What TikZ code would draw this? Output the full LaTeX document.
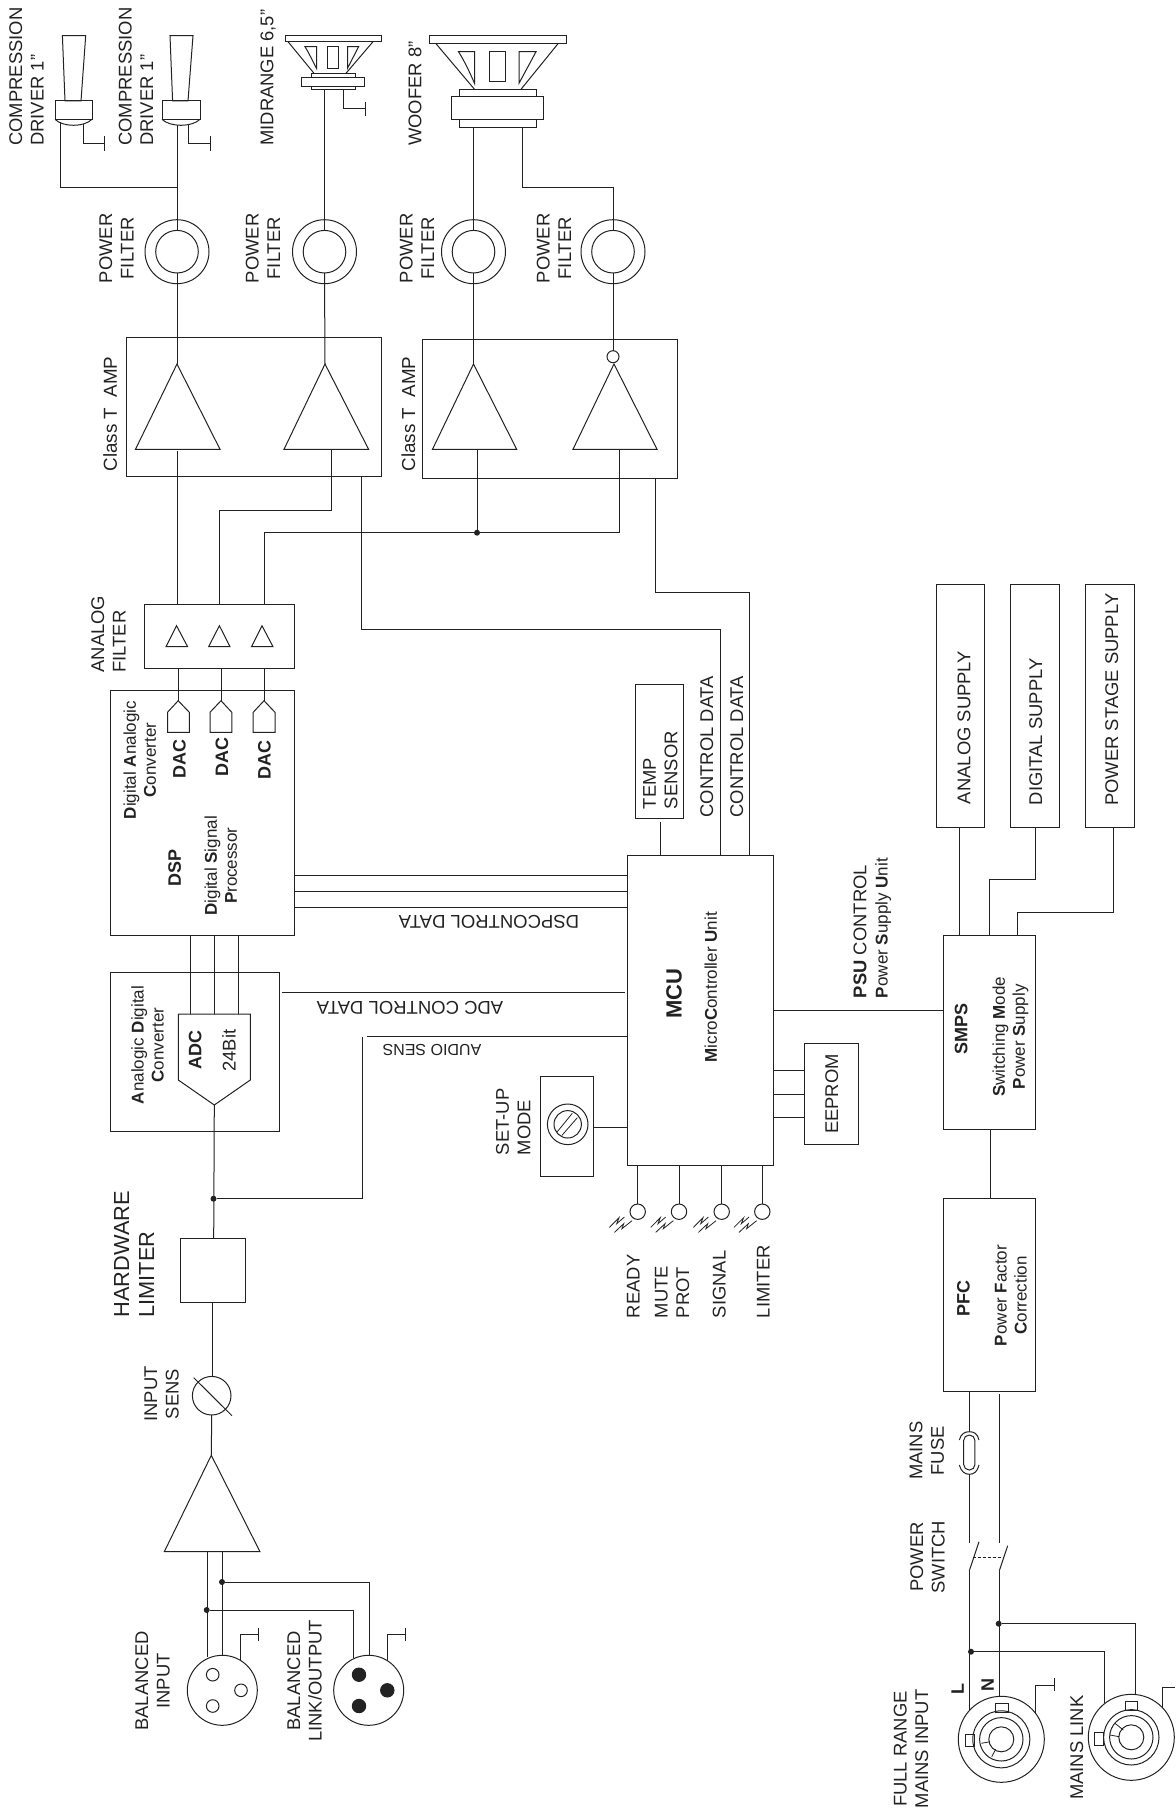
\documentclass[tikz,border=0pt]{standalone}
\usepackage{fontspec}
\setmainfont{Liberation Sans}
\definecolor{ink}{HTML}{222222}
\tikzset{
  wire/.style={draw=ink,line width=1pt,line join=miter},
  boxnode/.style={draw=ink,line width=1pt,rectangle,inner sep=0pt,outer sep=0pt},
  ring/.style={draw=ink,line width=1pt,circle,inner sep=0pt,outer sep=0pt},
  jdot/.style={fill=ink,circle,inner sep=0pt,outer sep=0pt,minimum size=6pt},
  lb/.style={rotate=90,align=center,inner sep=0pt,outer sep=0pt,text=ink,text depth=0pt,font=\fontsize{18.4}{21.5}\selectfont},
  lbw/.style={lb,anchor=west,align=left},
  ub/.style={rotate=180,inner sep=0pt,outer sep=0pt,text=ink,text depth=0pt,font=\fontsize{18.5}{21.5}\selectfont},
  small/.style={font=\fontsize{17}{20}\selectfont},
  bfl/.style={font=\fontsize{18}{21}\bfseries\selectfont},
}
\newcommand{\pbox}[5]{\pgfmathsetmacro\bwv{#4-#2}\pgfmathsetmacro\bhv{#5-#3}%
  \node[boxnode,minimum width=\bwv pt,minimum height=\bhv pt] (#1) at ({(#2+#4)/2},{(#3+#5)/2}) {};}
\newcommand{\gndsym}[6]{\draw[wire] (#1,#2) |- (#4,#3); \draw[wire] (#4,#5) -- (#4,#6);}
\newcommand{\pfilter}[2]{%
  \node[ring,minimum size=64pt] (#1o) at (#2,251.7) {};
  \node[ring,minimum size=42.6pt] (#1i) at (#2,251.7) {};}
\newcommand{\ledsym}[2]{%
  \node[ring,minimum size=15.4pt] (#1) at (#2,1211.7) {};
  \draw[wire,line width=.8pt,shift={(#2,1211.7)}] (-28.3,15.7) -- (-18.7,6) -- (-21,12) -- (-13.3,5.3);
  \draw[wire,line width=.8pt,shift={(#2,1211.7)}] (-23.3,20.7) -- (-14,12) -- (-15.7,17) -- (-5.7,9);
  \draw[wire] (#1.north) -- (#1.north |- mcu.south);}
\begin{document}
\begin{tikzpicture}[x=1pt,y=-1pt]
\useasboundingbox (0,0) rectangle (1175,1809);

% ---------- compression drivers
\draw[wire] (62.4,35.7) -- (85.7,35.7) -- (81,101) -- (65,101) -- cycle;
\pbox{drA}{55}{101}{92}{119.3}
\draw[wire] (drA.south west) .. controls (63,127.3) and (84,127.3) .. (drA.south east);
\coordinate (drAp) at (60.5,122.5);
\gndsym{83}{124.5}{143.3}{104.5}{136}{150.7}
\draw[wire] (170,35.7) -- (193,35.7) -- (188,101) -- (172.6,101) -- cycle;
\pbox{drB}{162}{101}{200}{119.3}
\draw[wire] (drB.south west) .. controls (170,127.3) and (192,127.3) .. (drB.south east);
\coordinate (drBp) at (177,125.3);
\gndsym{188}{124.5}{143.3}{210}{136}{150.7}
\coordinate (jDr) at (177,187.3);
\draw[wire] (drAp) |- (jDr);

% ---------- midrange
\pbox{midA}{285}{36}{381}{41.7}
\draw[wire] (288,41.7) -- (314,73.3) (373,41.7) -- (346,73.3);
\draw[wire] (305,46.7) -- (316.5,46.7) -- (316.5,68.3) .. controls (312,60) and (309,53) .. cycle;
\pbox{midW}{327}{46.7}{338}{68.3}
\draw[wire] (358.6,46.7) -- (347.5,46.7) -- (347.5,68.3) -- cycle;
\pbox{midB}{311}{73.3}{355}{77.3}
\pbox{midM}{301}{77.3}{364}{86.7}
\pbox{midC}{311}{86.7}{355}{90}
\gndsym{343}{90}{108.7}{365}{101.7}{116}

% ---------- woofer
\pbox{wfA}{429}{36}{566}{43.7}
\draw[wire] (436,43.7) -- (474.5,89.3) (558,43.7) -- (521,89.3);
\draw[wire] (458.5,51.7) -- (474.5,51.7) -- (474.5,83.3) .. controls (470,73) and (465,62) .. cycle;
\pbox{wfW}{489.5}{51.7}{505}{81.7}
\draw[wire] (536,51.7) -- (519,51.7) -- (519,83.3) .. controls (524,74) and (530,63) .. cycle;
\pbox{wfB}{459}{89.3}{536}{97}
\pbox{wfM}{451.5}{97}{543}{120}
\pbox{wfC}{459}{120}{536}{128}

% ---------- power filters
\pfilter{pfA}{177}
\pfilter{pfB}{324.5}
\pfilter{pfC}{473.5}
\pfilter{pfD}{613}

% ---------- amps
\pbox{ampL}{126.4}{337.3}{381}{476.7}
\pbox{ampR}{422}{339}{677}{478.3}
\draw[wire] (177,364) coordinate (tA) -- (220,449.3) -- (135.5,449.3) -- cycle;
\draw[wire] (325,364) coordinate (tB) -- (368.6,449.3) -- (284,449.3) -- cycle;
\draw[wire] (473.5,364) coordinate (tC) -- (516.7,449.3) -- (432.5,449.3) -- cycle;
\draw[wire] (614,364) coordinate (tD) -- (657,449.3) -- (573,449.3) -- cycle;
\node[ring,minimum size=12pt] (bub) at (613,356.7) {};

\draw[wire] (drBp) -- (pfAi.north);
\draw[wire] (pfAi.south) -- (tA);
\draw[wire] (pfBi.north) -- (midC.south -| pfBi.north);
\draw[wire] (pfBi.south) -- (tB);
\draw[wire] (pfCi.north) -- (wfC.south -| pfCi.north);
\draw[wire] (pfCi.south) -- (tC);
\draw[wire] (522,128) |- (pfDi.north |- jDr) -- (pfDi.north);
\draw[wire] (pfDi.south) -- (bub.north);

% ---------- analog filter
\pbox{afl}{144.7}{604}{294.4}{668.3}
\draw[wire] (176.5,625.7) -- (187.6,646.7) -- (166,646.7) -- cycle;
\draw[wire] (219.4,625.7) -- (230,646.7) -- (208.6,646.7) -- cycle;
\draw[wire] (262,625.7) -- (273,646.7) -- (251.5,646.7) -- cycle;
\draw[wire] (177,451) -- (177,604);
\draw[wire] (331,449.3) -- (331,510.3) -- (219.7,510.3) -- (219.7,604);
\node[jdot] (jAmp) at (477,532.7) {};
\draw[wire] (477,449.3) -- (jAmp);
\draw[wire] (619,449.3) -- (619,532.7) -- (264,532.7) -- (264,604);

% ---------- DSP
\pbox{dsp}{110}{690.7}{294.3}{935}
\draw[wire] (178.2,668.3) -- (178.2,700.7) coordinate (dacA);
\draw[wire] (221,668.3) -- (221,700.7) coordinate (dacB);
\draw[wire] (264,668.3) -- (264,700.7) coordinate (dacC);
\draw[wire] (dacA) -- (189.3,712.3) -- (189.3,732.3) -- (167.5,732.3) -- (167.5,712.3) -- cycle;
\draw[wire] (dacB) -- (231.8,712.3) -- (231.8,732.3) -- (210,732.3) -- (210,712.3) -- cycle;
\draw[wire] (dacC) -- (275,712.3) -- (275,732.3) -- (253.2,732.3) -- (253.2,712.3) -- cycle;

% ---------- ADC
\pbox{adcb}{110}{972}{279.3}{1131}
\draw[wire] (178.3,1014) -- (250.3,1014) -- (250.3,1080) -- (214.3,1105) coordinate (adcT) -- (178.3,1080) -- cycle;
\draw[wire] (190.2,935) -- (190.2,1014);
\draw[wire] (214.3,935) -- (214.3,1014);
\draw[wire] (238.2,935) -- (238.2,1014);

% ---------- MCU and neighbours
\pbox{mcu}{627}{855.7}{773.7}{1165.7}
\pbox{tmp}{635.7}{684.3}{683}{818.3}
\draw[wire] (660,821.7) -- (mcu.north -| 660,0);
\foreach \yy in {875.3,891.3,907.3} \draw[wire] (dsp.east |- 0,\yy) -- (mcu.west |- 0,\yy);
\draw[wire] (361.7,476.7) |- (720.3,629.3) -- (mcu.north -| 720.3,0);
\draw[wire] (655.6,478.3) |- (749.7,592.3) -- (mcu.north -| 749.7,0);
\draw[wire] (281.7,992) -- (624.5,992);
\coordinate (auEnd) at (366.7,1036);
\draw[wire] (auEnd) -- (mcu.west |- auEnd);
\pbox{lim}{180.7}{1238}{245}{1302.3}
\draw[wire] (adcT) -- (213.7,1238);
\node[jdot] (jAu) at (213.5,1198.7) {};
\draw[wire] (jAu) -- (362.3,1198.7) -- (362.3,1036.7);

\pbox{set}{540}{1076}{593.3}{1176}
\node[ring,minimum size=40.6pt] (scrO) at (567.7,1124.3) {};
\node[ring,minimum size=27.4pt] (scrI) at (567.7,1124.3) {};
\draw[wire,line width=.8pt] (557.3,1131.7) -- (572.3,1113.3) (562,1135.3) -- (577.3,1117.7);
\draw[wire] (set.east |- 0,1127.3) -- (mcu.west |- 0,1127.3);
\pbox{eep}{804.7}{1043.7}{858.3}{1144.3}
\foreach \yy in {1070,1094.3,1117.3} \draw[wire] (mcu.east |- 0,\yy) -- (eep.west |- 0,\yy);

\ledsym{ledA}{637.7}
\ledsym{ledB}{679}
\ledsym{ledC}{721.7}
\ledsym{ledD}{762.3}

% ---------- input
\node[ring,minimum size=38.6pt] (sens) at (211.7,1395.7) {};
\draw[wire] (193.7,1377.7) -- (232,1415.7);
\draw[wire] (212.7,1302.3) -- (212.7,1376.4);
\draw[wire] (211.3,1455.3) coordinate (tIn) -- (260,1551.7) -- (164.3,1551.7) -- cycle;
\draw[wire] (sens.south) -- (tIn);
\node[ring,minimum size=70pt] (xlrA) at (222.3,1690.3) {};
\node[ring,minimum size=12.6pt] (xa1) at (212.7,1674.7) {};
\node[ring,minimum size=12.6pt] (xa2) at (241,1690.3) {};
\node[ring,minimum size=12.6pt] (xa3) at (212.7,1706) {};
\node[ring,minimum size=70pt] (xlrB) at (368.7,1690.3) {};
\node[ring,fill=ink,minimum size=13.4pt] (xb1) at (359,1674.7) {};
\node[ring,fill=ink,minimum size=13.4pt] (xb2) at (387.3,1690.3) {};
\node[ring,fill=ink,minimum size=13.4pt] (xb3) at (359,1706) {};
\draw[wire] (207,1551.7) -- (207,1657);
\draw[wire] (222.7,1551.7) -- (222.7,1655.3);
\node[jdot] (jIa) at (206.7,1610) {};
\node[jdot] (jIb) at (222,1582) {};
\draw[wire] (jIa) -- (353.3,1610) -- (353.3,1658);
\draw[wire] (jIb) -- (369.7,1582) -- (369.7,1655.3);
\gndsym{240.7}{1660}{1634.3}{258.3}{1627.7}{1641}
\gndsym{387}{1660}{1634.3}{405.7}{1627.7}{1641}

% ---------- supplies
\pbox{supA}{936}{584.3}{984.7}{827.5}
\pbox{supD}{1010.7}{584.3}{1059.3}{827.5}
\pbox{supP}{1085.7}{584.3}{1134.3}{827.5}
\pbox{smps}{943.3}{935.7}{1035}{1129}
\pbox{pfc}{943.7}{1198}{1035.3}{1391.7}
\draw[wire] (959.3,827.5) -- (959.3,935.7);
\draw[wire] (1035.7,827.5) -- (1035.7,879.3) -- (989.3,879.3) -- (989.3,935.7);
\draw[wire] (1113.3,827.5) -- (1113.3,912.9) -- (1017.3,912.9) -- (1017.3,935.7);
\draw[wire] (mcu.east |- 0,1010) -- (smps.west |- 0,1010);
\draw[wire] (990,1129) -- (990,1198);

% ---------- mains
\node[boxnode,rounded corners=5.5pt,minimum width=11.3pt,minimum height=35pt] (fuse) at (969.3,1452.5) {};
\draw[wire] (959.3,1440) .. controls (961,1433.5) and (965,1431.7) .. (969.3,1431.7) .. controls (974,1431.7) and (977.5,1433.5) .. (979,1440);
\draw[wire] (959.3,1465) .. controls (961,1471.5) and (965,1474.3) .. (969.3,1474.3) .. controls (974,1474.3) and (977.5,1471.5) .. (979,1465);
\draw[wire] (969.3,1391.7) -- (969.3,1431.7);
\draw[wire] (969.3,1474.3) -- (969.3,1543.3);
\draw[wire] (999.3,1394) -- (999.3,1543.3);
\draw[wire] (969.3,1570.7) -- (979,1541.7);
\draw[wire] (999.3,1570.7) -- (1007.7,1545.7);
\draw[wire,line width=.7pt,dash pattern=on 3pt off 2pt] (972.7,1557.7) -- (1003.3,1557.7);
\draw[wire] (969.3,1570.7) -- (969.3,1710);
\draw[wire] (999.3,1570.7) -- (999.3,1696.3);
\node[jdot] (jMn) at (998.7,1623.7) {};
\node[jdot] (jMl) at (971,1651.7) {};
\draw[wire] (jMn) -- (1135,1623.7) -- (1135,1694.3);
\draw[wire] (jMl) -- (1104.3,1651.7) -- (1104.3,1702.7);
\node[ring,minimum size=86pt] (conA) at (1001.3,1739.3) {};
\node[ring,minimum size=57pt] (conAb) at (1001.3,1739.3) {};
\node[ring,minimum size=43.4pt] (conAc) at (1001.3,1739.3) {};
\node[ring,minimum size=25pt] (conAd) at (1001.3,1739.3) {};
\pbox{conAt}{995.7}{1703.7}{1008.3}{1712.7}
\pbox{conAl}{965.3}{1734.3}{974}{1746.7}
\draw[wire,line width=.8pt] (981.3,1743.3) -- (990,1741.7) (991.7,1756.7) -- (995.7,1749.3);
\node[ring,minimum size=86pt] (conB) at (1131.3,1737.3) {};
\node[ring,minimum size=55.4pt] (conBb) at (1131.3,1737.3) {};
\node[ring,minimum size=43.4pt] (conBc) at (1131.3,1737.3) {};
\node[ring,minimum size=25pt] (conBd) at (1131.3,1737.3) {};
\pbox{conBt}{1125}{1701.7}{1137.7}{1710}
\pbox{conBl}{1094.7}{1732.3}{1103.3}{1745}
\draw[wire,line width=.8pt] (1110,1735) -- (1119.3,1736.7) (1115,1723.3) -- (1123.3,1730);
\gndsym{1035.7}{1714}{1685}{1054.3}{1678.3}{1691}
\draw[wire] (1162.3,1708) |- (1175,1687.3);

% ---------- labels
\node[lbw] (tCdA) at (26.4,145.7) {COMPRESSION\\DRIVER 1”};
\node[lbw] (tCdB) at (136,145.7) {COMPRESSION\\DRIVER 1”};
\node[lbw] (tMid) at (267,145.7) {MIDRANGE 6,5”};
\node[lbw] (tWf) at (415,145.7) {WOOFER 8”};
\node[lb] (tPfA) at (116.5,248.3) {POWER\\FILTER};
\node[lb] (tPfB) at (263,248.3) {POWER\\FILTER};
\node[lb] (tPfC) at (417,248.3) {POWER\\FILTER};
\node[lb] (tPfD) at (554,248.3) {POWER\\FILTER};
\node[lbw,font=\fontsize{18.8}{21.5}\selectfont] (tAmpL) at (110,471.5) {Class T\ \ AMP};
\node[lbw,font=\fontsize{18.8}{21.5}\selectfont] (tAmpR) at (408.4,471.5) {Class T\ \ AMP};
\node[lbw] (tAf) at (108.5,672.5) {ANALOG\\FILTER};
\node[lb,small] (tDac) at (139.8,760) {\textbf{D}igital \textbf{A}nalogic\\\textbf{C}onverter};
\node[lb,bfl] (tDaA) at (179.3,758.8) {DAC};
\node[lb,bfl] (tDaB) at (221.8,757.2) {DAC};
\node[lb,bfl] (tDaC) at (264.3,760) {DAC};
\node[lb,bfl] (tDsp) at (174.6,868) {DSP};
\node[lb,small] (tDs2) at (220.8,865.7) {\textbf{D}igital \textbf{S}ignal\\\textbf{P}rocessor};
\node[ub] (tDsC) at (489,921.7) {DSPCONTROL DATA};
\node[lb,small] (tAd) at (147.5,1045) {\textbf{A}nalogic \textbf{D}igital\\\textbf{C}onverter};
\node[lb,bfl] (tAdc) at (195,1050) {ADC};
\node[lb] (tBit) at (229,1050.7) {24Bit};
\node[ub] (tAdC) at (410,1008.3) {ADC CONTROL DATA};
\node[ub,font=\fontsize{16}{20}\selectfont] (tAu) at (432,1050) {AUDIO SENS};
\node[lbw,font=\fontsize{21.8}{25}\selectfont] (tHl) at (134.2,1317.5) {HARDWARE\\LIMITER};
\node[lb] (tSens) at (161.6,1394) {INPUT\\SENS};
\node[lb] (tBi) at (152.5,1681) {BALANCED\\INPUT};
\node[lb] (tBl) at (304.5,1681) {BALANCED\\LINK/OUTPUT};
\node[lbw] (tTmp) at (660.3,809) {TEMP\\SENSOR};
\node[lbw] (tCa) at (706.7,817.3) {CONTROL DATA};
\node[lbw] (tCb) at (736.7,817.3) {CONTROL DATA};
\node[lb,font=\fontsize{22}{25}\bfseries\selectfont] (tMcu) at (674,993.3) {MCU};
\node[lb,small] (tMc2) at (710.7,987.3) {\textbf{M}icro\textbf{C}ontroller \textbf{U}nit};
\node[lb] (tEe) at (831.7,1094) {EEPROM};
\node[lbw] (tSet) at (513.3,1155) {SET-UP\\MODE};
\node[lbw] (tRd) at (633.3,1318) {READY};
\node[lbw] (tMu) at (672,1318) {MUTE\\PROT};
\node[lbw] (tSg) at (719.3,1318) {SIGNAL};
\node[lbw] (tLm) at (763.3,1318) {LIMITER};
\node[lbw] (tSa) at (964,804) {ANALOG SUPPLY};
\node[lbw] (tSd) at (1035.7,805) {DIGITAL SUPPLY};
\node[lbw] (tSp) at (1111.7,805.7) {POWER STAGE SUPPLY};
\node[lbw] (tPsu) at (870.5,998) {\textbf{PSU} CONTROL\\[-0.3pt]{\fontsize{17}{20}\selectfont\textbf{P}ower \textbf{S}upply \textbf{U}nit}};
\node[lb,bfl] (tSmps) at (961,1029.3) {SMPS};
\node[lb,small] (tSm2) at (1008.6,1036.8) {\textbf{S}witching \textbf{M}ode\\\textbf{P}ower \textbf{S}upply};
\node[lb,bfl] (tPfc) at (963.3,1298.3) {PFC};
\node[lb,small] (tPf2) at (1010.8,1295.5) {\textbf{P}ower \textbf{F}actor\\\textbf{C}orrection};
\node[lb] (tFu) at (926.8,1450.7) {MAINS\\FUSE};
\node[lb] (tSw) at (927.5,1557) {POWER\\SWITCH};
\node[lb,bfl] (tL) at (957.7,1688.7) {L};
\node[lb,bfl] (tN) at (987.7,1685) {N};
\node[lb] (tFr) at (911,1749) {FULL RANGE\\MAINS INPUT};
\node[lb] (tMl) at (1076.7,1747.7) {MAINS LINK};
\end{tikzpicture}
\end{document}
